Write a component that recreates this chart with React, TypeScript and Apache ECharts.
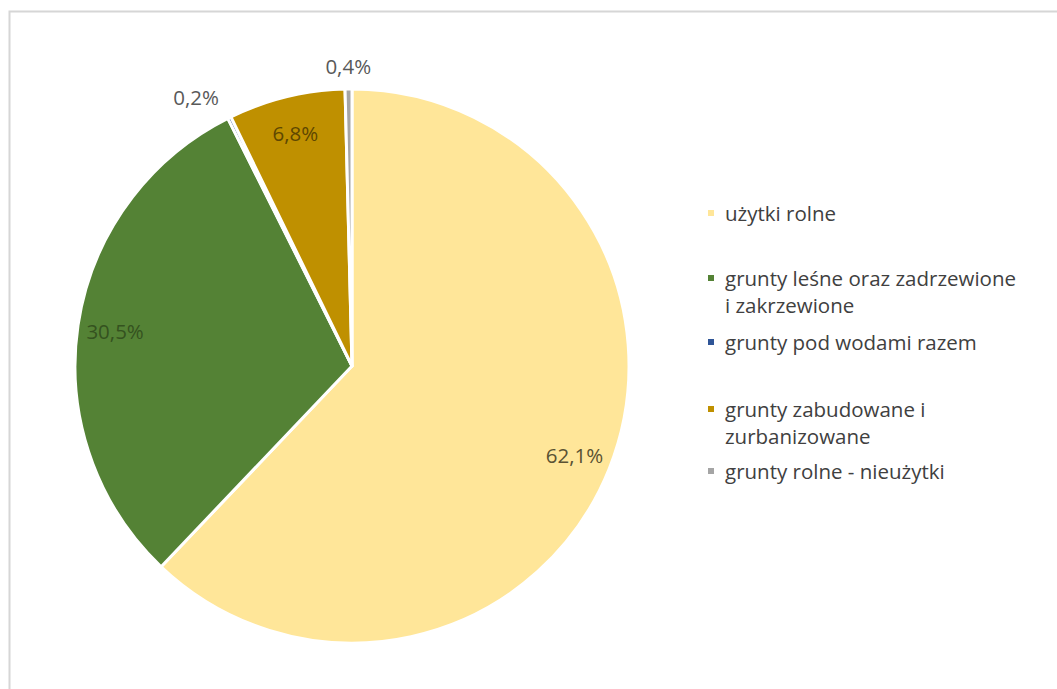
import React, { useEffect, useRef } from "react";
import * as echarts from "echarts";

const categories = [
  "użytki rolne",
  "grunty leśne oraz zadrzewione i zakrzewione",
  "grunty pod wodami razem",
  "grunty zabudowane i zurbanizowane",
  "grunty rolne - nieużytki",
];
const values = [62.1, 30.5, 0.2, 6.8, 0.4];
const colors = ["#FFE699", "#548235", "#2F5597", "#BF9000", "#A5A5A5"];
const legendLines = [
  ["użytki rolne"],
  ["grunty leśne oraz zadrzewione", "i zakrzewione"],
  ["grunty pod wodami razem"],
  ["grunty zabudowane i", "zurbanizowane"],
  ["grunty rolne - nieużytki"],
];
const insideLabel = [true, true, false, true, false];
const labelColors = ["#5a5233", "#34521f", "#595959", "#5e4700", "#595959"];

const FONT = "Open Sans";
const CX = 352;
const CY = 366;
const R = 277;

export default function App() {
  const ref = useRef<HTMLDivElement>(null);
  useEffect(() => {
    document.body.style.margin = "0";
    const chart = echarts.init(ref.current!, undefined, { renderer: "svg" });
    const fmt = (p: any) => p.value.toFixed(1).replace(".", ",") + "%";
    const legendTops = [199.5, 237.5, 328.5, 368.5, 457.5];
    const legends = categories.map((name, i) => {
      const two = legendLines[i].length > 1;
      return {
        data: [name],
        orient: "vertical",
        left: 706,
        top: legendTops[i],
        padding: 0,
        icon: "rect",
        itemWidth: 8,
        itemHeight: 8,
        itemGap: 0,
        selectedMode: false,
        formatter: () => (two ? " \n" : "") + legendLines[i].join("\n"),
        textStyle: {
          fontFamily: FONT,
          fontSize: 20.5,
          color: "#404040",
          lineHeight: 27,
          padding: [0, 0, 0, 5],
        },
      };
    });
    const baseData = categories.map((name, i) => ({
      name,
      value: values[i],
      itemStyle: { color: colors[i] },
    }));
    const option: any = {
      animation: false,
      backgroundColor: "#ffffff",
      graphic: [
        {
          type: "rect",
          shape: { x: 9.5, y: 11.5, width: 1200, height: 800 },
          style: { fill: "none", stroke: "#d6d6d6", lineWidth: 2 },
          silent: true,
          z: 0,
        },
      ],
      legend: legends,
      series: [
        {
          type: "pie",
          center: [CX, CY],
          radius: R,
          startAngle: 90,
          clockwise: true,
          avoidLabelOverlap: false,
          label: { show: false },
          labelLine: { show: false },
          itemStyle: { borderColor: "#ffffff", borderWidth: 3 },
          emphasis: { disabled: true },
          data: baseData,
        },
        {
          type: "pie",
          center: [CX, CY],
          radius: [196, R],
          startAngle: 90,
          clockwise: true,
          silent: true,
          avoidLabelOverlap: false,
          labelLine: { show: false },
          itemStyle: { color: "rgba(0,0,0,0)" },
          emphasis: { disabled: true },
          label: {
            show: true,
            position: "inside",
            formatter: fmt,
            fontFamily: FONT,
            fontSize: 20.5,
          },
          data: categories.map((name, i) => ({
            name,
            value: values[i],
            itemStyle: { color: "rgba(0,0,0,0)" },
            label: { show: insideLabel[i], color: labelColors[i] },
          })),
        },
        {
          type: "pie",
          center: [CX, CY],
          radius: [285, 309],
          startAngle: 90,
          clockwise: true,
          silent: true,
          avoidLabelOverlap: false,
          labelLine: { show: false },
          itemStyle: { color: "rgba(0,0,0,0)" },
          emphasis: { disabled: true },
          label: {
            show: true,
            position: "inside",
            formatter: fmt,
            fontFamily: FONT,
            fontSize: 20.5,
          },
          data: categories.map((name, i) => ({
            name,
            value: values[i],
            itemStyle: { color: "rgba(0,0,0,0)" },
            label: {
              show: !insideLabel[i],
              color: labelColors[i],
              padding: i === 2 ? [0, 46, 0, 0] : [4, 0, 0, 0],
            },
          })),
        },
      ],
    };
    chart.setOption(option);
    return () => chart.dispose();
  }, []);
  return <div ref={ref} style={{ width: 1057, height: 689 }} />;
}
